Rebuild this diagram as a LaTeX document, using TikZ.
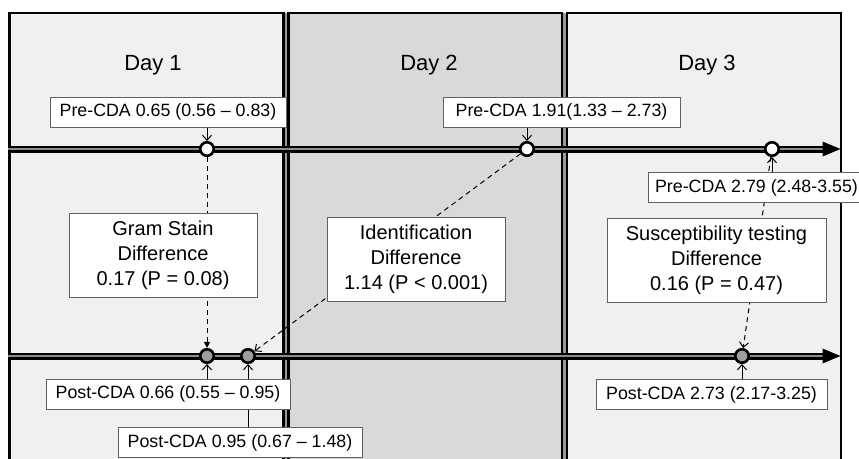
\documentclass[tikz,border=0pt]{standalone}
\usepackage{fontspec}
\setmainfont{Liberation Sans}
\usetikzlibrary{arrows.meta}
\pgfdeclarelayer{back}
\pgfdeclarelayer{mid}
\pgfsetlayers{back,mid,main}
\definecolor{lightp}{gray}{0.94}
\definecolor{darkp}{gray}{0.85}
\definecolor{boxline}{gray}{0.38}
\definecolor{tlgray}{gray}{0.55}
\definecolor{postfill}{gray}{0.62}
\definecolor{gapgray}{gray}{0.6}
\begin{document}
\begin{tikzpicture}[x=1pt,y=-1pt,
  panel/.style={line width=2.5pt, draw=black},
  lbl/.style={draw=boxline, fill=white, line width=0.9pt, minimum height=30pt, inner sep=0pt,
    font=\fontsize{17.8}{21}\selectfont},
  diff/.style={draw=boxline, fill=white, line width=0.9pt, minimum height=84pt, inner sep=0pt,
    align=center, font=\fontsize{20}{25}\selectfont},
  daylbl/.style={font=\fontsize{22}{26}\selectfont, inner sep=0pt, anchor=base},
  pre/.style={circle, draw=black, line width=2.6pt, fill=white, minimum size=13.5pt, inner sep=0pt},
  post/.style={pre, fill=postfill},
  conn/.style={line width=1pt, -{Straight Barb[length=5pt,width=9pt]}},
  dconn/.style={line width=1pt, dash pattern=on 5pt off 4pt, -{Straight Barb[length=5pt,width=9pt]}},
  tlout/.style={line width=7pt, draw=black},
  tlin/.style={line width=2.6pt, draw=tlgray},
]
\useasboundingbox (0,0) rectangle (859,458);
\clip (0,0) rectangle (859,458);

% panels
\begin{pgfonlayer}{back}
  \fill[white] (0,0) rectangle (859,458);
  \fill[gapgray] (284,13) rectangle (288,475);
  \fill[gapgray] (562,13) rectangle (567,475);
  \filldraw[panel, fill=lightp] (9.5,13) rectangle (283.5,475);
  \filldraw[panel, fill=darkp] (288.5,13) rectangle (562,475);
  \filldraw[panel, fill=lightp] (567,13) rectangle (841,475);
\end{pgfonlayer}

% day labels
\node[daylbl] (d1) at (153,70.5) {Day 1};
\node[daylbl] (d2) at (429,70.5) {Day 2};
\node[daylbl] (d3) at (707,70) {Day 3};

% timeline end points
\coordinate (t1s) at (8,149);
\coordinate (t1e) at (823,149);
\coordinate (t2s) at (8,356);
\coordinate (t2e) at (823,356);

% label boxes
\node[lbl, minimum width=236pt] (preA) at (168,112) {Pre-CDA 0.65 (0.56 – 0.83)};
\node[lbl, minimum width=237pt] (preB) at (561.5,112) {Pre-CDA 1.91(1.33 – 2.73)};
\node[lbl, minimum width=216pt] (preC) at (756.5,187.5) {Pre-CDA 2.79 (2.48-3.55)};
\node[lbl, minimum width=244pt] (postA) at (168,394) {Post-CDA 0.66 (0.55 – 0.95)};
\node[lbl, minimum width=244pt] (postB) at (240,442.5) {Post-CDA 0.95 (0.67 – 1.48)};
\node[lbl, minimum width=231pt] (postC) at (711.5,394.5) {Post-CDA 2.73 (2.17-3.25)};

% difference boxes
\node[diff, minimum width=188pt] (gram) at (163,255) {Gram Stain\\Difference\\0.17 (P = 0.08)};
\node[diff, minimum width=178pt] (ident) at (416,259) {Identification\\Difference\\1.14 (P < 0.001)};
\node[diff, minimum width=219pt] (sus) at (716.5,260) {Susceptibility testing\\Difference\\0.16 (P = 0.47)};

% circles
\node[pre] (pA) at (207,149) {};
\node[pre] (pB) at (527,149) {};
\node[pre] (pC) at (772,149) {};
\node[post] (qA) at (207,356) {};
\node[post] (qB) at (248,356) {};
\node[post] (qC) at (742,356) {};

\begin{pgfonlayer}{mid}
  % timelines
  \draw[tlout] (t1s) -- (t1e);
  \draw[tlin] (t1s) -- (t1e);
  \fill (t1e) ++(-0.5,-7.5) -- ++(18,7.5) -- ++(-18,7.5) -- cycle;
  \draw[tlout] (t2s) -- (t2e);
  \draw[tlin] (t2s) -- (t2e);
  \fill (t2e) ++(-0.5,-7.5) -- ++(18,7.5) -- ++(-18,7.5) -- cycle;
  % dashed difference connectors
  \draw[dconn, -{Triangle[length=6pt,width=6pt]}] (pA) -- (qA);
  \draw[dconn] (pB) -- (qB);
  \draw[dconn] (pC) -- (qC);
  % label connectors
  \draw[conn] (preA.south -| pA) -- (pA);
  \draw[conn] (preB.south -| pB) -- (pB);
  \draw[conn] (preC.north -| pC) -- (pC);
  \draw[conn] (postA.north -| qA) -- (qA);
  \draw[conn] (postB.north -| qB) -- (qB);
  \draw[conn] (postC.north -| qC) -- (qC);
\end{pgfonlayer}
\end{tikzpicture}
\end{document}
